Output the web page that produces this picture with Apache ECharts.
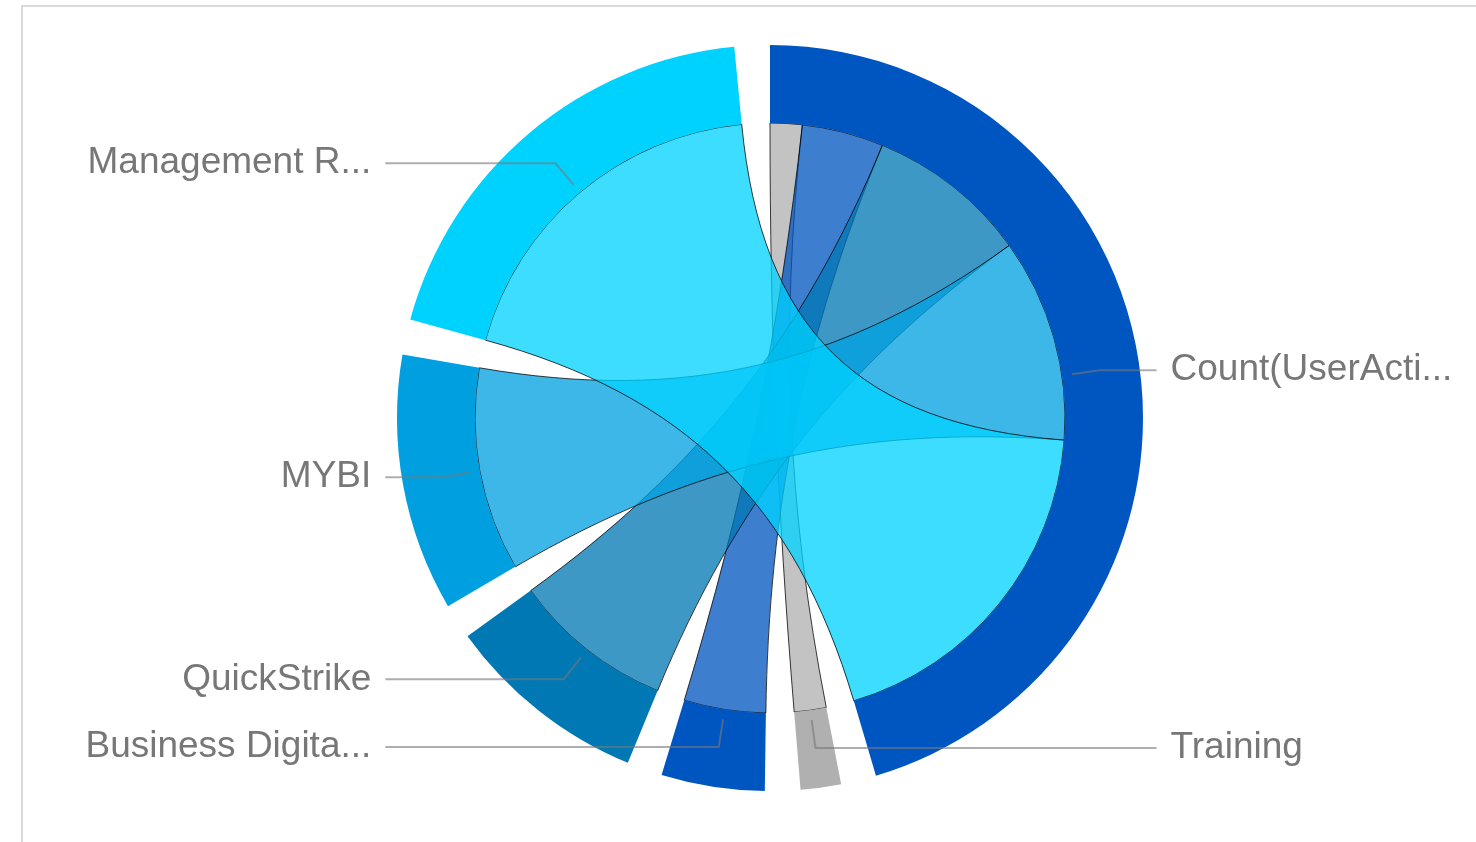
<!DOCTYPE html>
<html>
<head>
<meta charset="utf-8">
<script src="https://cdn.jsdelivr.net/npm/echarts@6/dist/echarts.min.js"></script>
<style>
html,body{margin:0;padding:0;background:#fff;}
#frame{position:absolute;left:21px;top:5px;width:1500px;height:900px;border-left:2px solid #dadada;border-top:2px solid #dadada;box-sizing:border-box;}
#chart{position:absolute;left:0;top:0;width:1476px;height:842px;}
</style>
</head>
<body>
<div id="frame"></div>
<div id="chart"></div>
<script>
// Nodes in clockwise order from 12 o'clock
var nodeNames = ['Count(UserActi...', 'Training', 'Business Digita...', 'QuickStrike', 'MYBI', 'Management R...'];
var nodeColors = ['#0056c0', '#b0b0b0', '#0056c0', '#0078b4', '#00a0e0', '#00d2ff'];
// Links: Count -> each application
var linkTargets = ['Training', 'Business Digita...', 'QuickStrike', 'MYBI', 'Management R...'];
var linkValues = [6.3, 16.1, 31.8, 40.1, 69.2];

var PAD = 5.5;

var nodeValues = nodeNames.map(function (n) {
  var v = 0;
  for (var i = 0; i < linkTargets.length; i++) {
    if (linkTargets[i] === n || n === nodeNames[0]) v += linkValues[i];
  }
  return v;
});
var totalNodes = nodeValues.reduce(function (a, b) { return a + b; }, 0);
var k = (360 - PAD * nodeNames.length) / totalNodes;

// invisible pie used only for the labels and their label lines (same angles as the chord nodes)
var pieData = [];
nodeNames.forEach(function (n, i) {
  pieData.push({ name: n, value: nodeValues[i] * k });
  pieData.push({ name: 'gap' + i, value: PAD, label: { show: false }, labelLine: { show: false } });
});

var chart = echarts.init(document.getElementById('chart'));
chart.setOption({
  animation: false,
  series: [
    {
      type: 'chord',
      center: [770, 418],
      radius: [295, 373],
      startAngle: 90,
      clockwise: true,
      padAngle: PAD,
      label: { show: false },
      itemStyle: { borderRadius: 0 },
      lineStyle: { color: 'target', opacity: 0.76, width: 1 },
      data: nodeNames.map(function (n, i) {
        return { name: n, itemStyle: { color: nodeColors[i] } };
      }),
      links: linkTargets.map(function (t, i) {
        return { source: nodeNames[0], target: t, value: linkValues[i] };
      })
    },
    {
      type: 'pie',
      center: [770, 418],
      radius: [0, 305],
      startAngle: 90,
      clockwise: true,
      silent: true,
      z: 10,
      itemStyle: { color: 'rgba(0,0,0,0)', borderWidth: 0 },
      label: {
        show: true,
        color: '#777',
        fontSize: 37,
        fontFamily: 'Liberation Sans, Helvetica, Arial, sans-serif',
        alignTo: 'labelLine',
        distanceToLabelLine: 14,
        edgeDistance: 3,
        overflow: 'none'
      },
      labelLine: {
        show: true,
        length: 28,
        length2: 57,
        lineStyle: { color: 'rgba(120,120,120,0.6)', width: 2 }
      },
      data: pieData
    }
  ]
});
</script>
</body>
</html>
